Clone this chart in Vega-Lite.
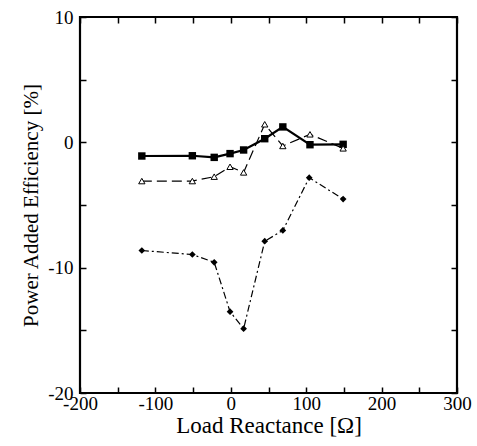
{
  "$schema": "https://vega.github.io/schema/vega-lite/v6.json",
  "autosize": "none",
  "width": 377,
  "height": 376,
  "padding": {"left": 80, "top": 17, "right": 20, "bottom": 53},
  "background": "white",
  "config": {
    "view": {"stroke": "black", "strokeWidth": 2.2},
    "axis": {
      "labelFont": "Liberation Serif",
      "titleFont": "Liberation Serif",
      "labelFontSize": 19,
      "titleFontSize": 23,
      "titleFontWeight": "normal",
      "labelColor": "black",
      "titleColor": "black",
      "tickColor": "black",
      "tickWidth": 1.5,
      "tickSize": -6,
      "domain": false,
      "grid": false
    }
  },
  "data": {
    "values": [
      {"x": -118, "y": -1.09, "s": "sq"},
      {"x": -51, "y": -1.07, "s": "sq"},
      {"x": -22, "y": -1.2, "s": "sq"},
      {"x": -1, "y": -0.9, "s": "sq"},
      {"x": 17, "y": -0.61, "s": "sq"},
      {"x": 45, "y": 0.29, "s": "sq"},
      {"x": 69, "y": 1.23, "s": "sq"},
      {"x": 105, "y": -0.19, "s": "sq"},
      {"x": 149, "y": -0.16, "s": "sq"},
      {"x": -118, "y": -3.09, "s": "tri"},
      {"x": -51, "y": -3.09, "s": "tri"},
      {"x": -22, "y": -2.74, "s": "tri"},
      {"x": -1, "y": -1.95, "s": "tri"},
      {"x": 17, "y": -2.4, "s": "tri"},
      {"x": 45, "y": 1.44, "s": "tri"},
      {"x": 69, "y": -0.29, "s": "tri"},
      {"x": 105, "y": 0.64, "s": "tri"},
      {"x": 149, "y": -0.48, "s": "tri"},
      {"x": -118, "y": -8.63, "s": "dia"},
      {"x": -51, "y": -8.95, "s": "dia"},
      {"x": -22, "y": -9.57, "s": "dia"},
      {"x": -1, "y": -13.51, "s": "dia"},
      {"x": 17, "y": -14.87, "s": "dia"},
      {"x": 45, "y": -7.89, "s": "dia"},
      {"x": 69, "y": -7.03, "s": "dia"},
      {"x": 104, "y": -2.82, "s": "dia"},
      {"x": 149, "y": -4.53, "s": "dia"}
    ]
  },
  "resolve": {"axis": {"x": "independent", "y": "independent"}},
  "layer": [
    {
      "transform": [{"filter": "datum.s === 'sq'"}],
      "mark": {"type": "line", "color": "black", "strokeWidth": 2.2},
      "encoding": {
        "x": {"field": "x", "type": "quantitative", "scale": {"domain": [-200, 300], "nice": false, "zero": false},
          "axis": {"orient": "bottom", "values": [-200, -150, -100, -50, 0, 50, 100, 150, 200, 250, 300],
            "labelExpr": "datum.value % 100 === 0 ? toString(datum.value) : ''", "labelPadding": 7, "labelFlush": false,
            "title": "Load Reactance [Ω]", "titlePadding": 1}},
        "y": {"field": "y", "type": "quantitative", "scale": {"domain": [-20, 10], "nice": false, "zero": false},
          "axis": {"orient": "left", "values": [-20, -15, -10, -5, 0, 5, 10],
            "labelExpr": "datum.value % 10 === 0 ? toString(datum.value) : ''", "labelPadding": 13, "labelFlush": false,
            "title": "Power Added Efficiency [%]", "titleFontSize": 21, "titlePadding": 6}}
      }
    },
    {
      "transform": [{"filter": "datum.s === 'tri'"}],
      "mark": {"type": "line", "color": "black", "strokeWidth": 1.2, "strokeDash": [10, 5]},
      "encoding": {
        "x": {"field": "x", "type": "quantitative", "axis": null},
        "y": {"field": "y", "type": "quantitative", "axis": null}
      }
    },
    {
      "transform": [{"filter": "datum.s === 'dia'"}],
      "mark": {"type": "line", "color": "black", "strokeWidth": 1.2, "strokeDash": [7, 3, 2, 3]},
      "encoding": {
        "x": {"field": "x", "type": "quantitative", "axis": null},
        "y": {"field": "y", "type": "quantitative", "axis": null}
      }
    },
    {
      "transform": [{"filter": "datum.s === 'sq'"}],
      "mark": {"type": "point", "shape": "square", "filled": true, "color": "black", "size": 55, "opacity": 1},
      "encoding": {
        "x": {"field": "x", "type": "quantitative", "axis": null},
        "y": {"field": "y", "type": "quantitative", "axis": null}
      }
    },
    {
      "transform": [{"filter": "datum.s === 'tri'"}],
      "mark": {"type": "point", "shape": "triangle-up", "filled": false, "fill": "white", "fillOpacity": 1, "stroke": "black", "strokeWidth": 1, "size": 40, "opacity": 1},
      "encoding": {
        "x": {"field": "x", "type": "quantitative", "axis": null},
        "y": {"field": "y", "type": "quantitative", "axis": null}
      }
    },
    {
      "transform": [{"filter": "datum.s === 'dia'"}],
      "mark": {"type": "point", "shape": "diamond", "filled": true, "color": "black", "size": 45, "opacity": 1},
      "encoding": {
        "x": {"field": "x", "type": "quantitative", "axis": null},
        "y": {"field": "y", "type": "quantitative", "axis": null}
      }
    },
    {
      "mark": {"type": "point", "opacity": 0},
      "encoding": {
        "x": {"field": "x", "type": "quantitative",
          "axis": {"orient": "top", "values": [-200, -150, -100, -50, 0, 50, 100, 150, 200, 250, 300], "labels": false, "title": null}},
        "y": {"field": "y", "type": "quantitative",
          "axis": {"orient": "right", "values": [-20, -15, -10, -5, 0, 5, 10], "labels": false, "title": null}}
      }
    }
  ]
}
